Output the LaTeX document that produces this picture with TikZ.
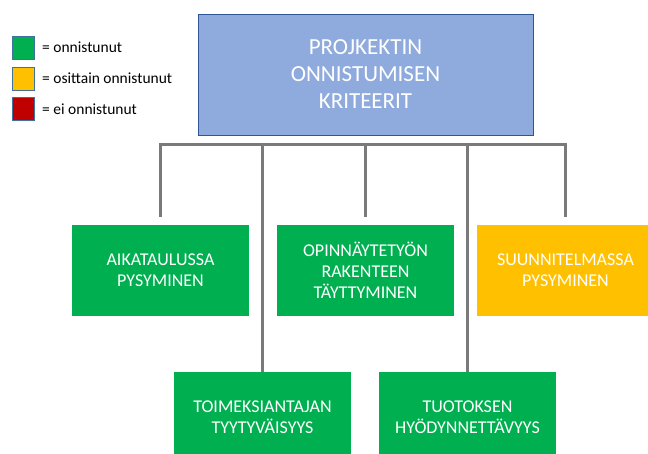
\documentclass[tikz,border=0pt]{standalone}
\usepackage{fontspec}
\setmainfont{Carlito}
\definecolor{okgreen}{HTML}{00B050}
\definecolor{partyellow}{HTML}{FFC000}
\definecolor{failred}{HTML}{C00000}
\definecolor{topblue}{HTML}{8FAADC}
\definecolor{topborder}{HTML}{2F5597}
\definecolor{conngray}{HTML}{7A7A7A}
\definecolor{legborder}{HTML}{41719C}
\tikzset{
  crit/.style={minimum width=177pt, minimum height=91pt, inner sep=0pt, text=white, align=center,
    font=\fontsize{18}{21}\selectfont},
  topbox/.style={fill=topblue, draw=topborder, line width=0.8pt, minimum width=335pt, minimum height=121pt,
    inner sep=0pt, text=white, align=center, font=\fontsize{23}{27}\selectfont},
  conn/.style={draw=conngray, line width=3pt},
  legsq/.style={draw=legborder, line width=0.6pt, minimum width=22pt, minimum height=23pt, inner sep=0pt},
  legtxt/.style={anchor=west, inner sep=0pt, font=\fontsize{15.5}{18}\selectfont}
}
\begin{document}
\begin{tikzpicture}[x=1pt,y=-1pt]
\clip (0,0) rectangle (648,454);
\fill[white] (0,0) rectangle (648,454);
% legend
\node[legsq, fill=okgreen] (lg) at (23,47.5) {};
\node[legsq, fill=partyellow] (ly) at (23,78.5) {};
\node[legsq, fill=failred] (lr) at (23,108.5) {};
\node[legtxt] (tg) at (42,47) {= onnistunut};
\node[legtxt] (ty) at (42,78) {= osittain onnistunut};
\node[legtxt] (tr) at (42,109) {= ei onnistunut};
% top
\node[topbox] (top) at (365.5,74.5) {PROJKEKTIN\\ONNISTUMISEN\\KRITEERIT};
% criteria
\node[crit, fill=okgreen] (b1) at (160.5,270.5) {AIKATAULUSSA\\PYSYMINEN};
\node[crit, fill=okgreen] (b2) at (365.5,270.5) {OPINNÄYTETYÖN\\RAKENTEEN\\TÄYTTYMINEN};
\node[crit, fill=partyellow] (b3) at (565.5,270.5) {SUUNNITELMASSA\\PYSYMINEN};
\node[crit, fill=okgreen] (b4) at (262.5,417.5) {TOIMEKSIANTAJAN\\TYYTYVÄISYYS};
\node[crit, fill=okgreen] (b5) at (467.5,417.5) {TUOTOKSEN\\HYÖDYNNETTÄVYYS};
% bus
\coordinate (e1) at ([yshift=8pt]b1.north);
\coordinate (e2) at ([yshift=8pt]b2.north);
\coordinate (e3) at ([yshift=8pt]b3.north);
\coordinate (bus) at (365.5,145);
\draw[conn] (e1) |- (bus) -| (e3);
\draw[conn] (e2) -- (e2 |- bus);
\draw[conn] (b4.north) -- (b4.north |- bus);
\draw[conn] (b5.north) -- (b5.north |- bus);
\end{tikzpicture}
\end{document}
